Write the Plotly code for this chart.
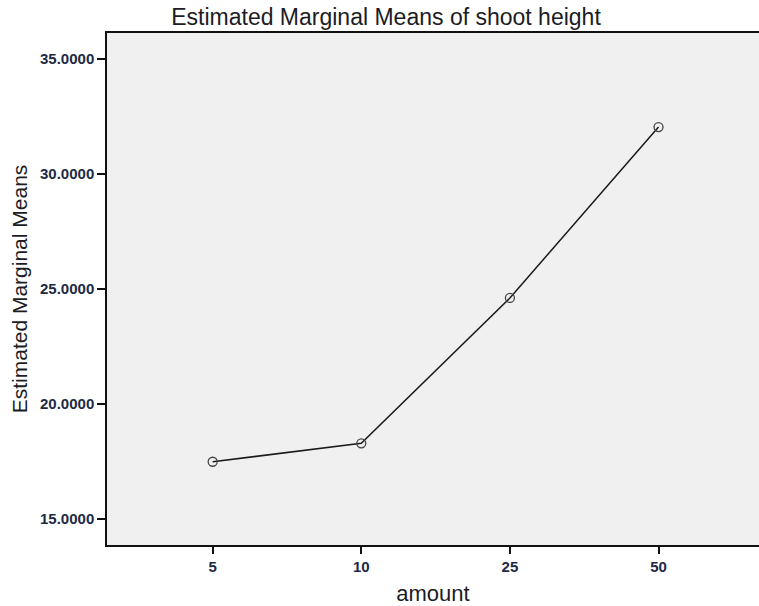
import plotly.graph_objects as go

# Estimated marginal means of shoot height by amount
amount = ["5", "10", "25", "50"]
shoot_height_means = [17.50, 18.30, 24.62, 32.05]
y_tick_values = [15, 20, 25, 30, 35]
y_tick_labels = ["15.0000", "20.0000", "25.0000", "30.0000", "35.0000"]

W, H = 759, 606
ML, MR, MT, MB = 107, 0, 33, 61

fig = go.Figure()
fig.add_trace(go.Scatter(
    x=amount,
    y=shoot_height_means,
    mode="lines+markers",
    line=dict(color="#1a1a1a", width=1.5),
    marker=dict(symbol="circle-open", size=9, color="#444444",
                line=dict(width=1.3, color="#444444")),
    showlegend=False,
    hoverinfo="x+y",
))

label_font = dict(family="Liberation Sans, Arial, sans-serif", size=15,
                  color="#1e2a45", weight="bold")

fig.update_layout(
    width=W, height=H, autosize=False,
    margin=dict(l=ML, r=MR, t=MT, b=MB, pad=0, autoexpand=False),
    paper_bgcolor="white",
    plot_bgcolor="#f0f0f0",
    showlegend=False,
    title=dict(
        text="Estimated Marginal Means of shoot height",
        font=dict(family="Liberation Sans, Arial, sans-serif", size=23, color="#1c1c24"),
        xref="container", yref="container",
        x=386 / W, y=1 - 17 / H, xanchor="center", yanchor="middle",
    ),
    xaxis=dict(
        type="category",
        range=[-0.711, 3.676],
        showgrid=False, zeroline=False,
        showline=True, linecolor="#111111", linewidth=1.5, mirror=True,
        ticks="outside", ticklen=7, tickwidth=1.5, tickcolor="#111111",
        tickfont=label_font,
        title=dict(text="amount", standoff=13,
                   font=dict(family="Liberation Sans, Arial, sans-serif", size=22, color="#1c1c24")),
    ),
    yaxis=dict(
        range=[13.88, 36.14],
        tickvals=y_tick_values, ticktext=y_tick_labels,
        showgrid=False, zeroline=False,
        showline=True, linecolor="#111111", linewidth=1.5, mirror=False,
        ticks="outside", ticklen=8, tickwidth=1.5, tickcolor="#111111",
        tickfont=label_font,
        title=dict(text="Estimated Marginal Means", standoff=7,
                   font=dict(family="Liberation Sans, Arial, sans-serif", size=21, color="#1c1c24")),
    ),
)

fig.write_html("out.html")
